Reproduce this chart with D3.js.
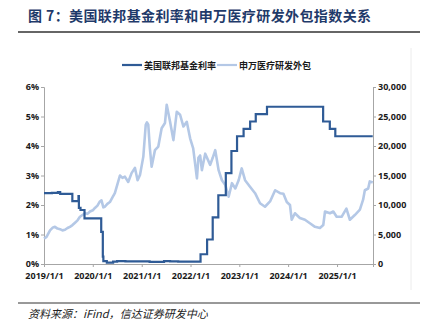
<!DOCTYPE html>
<html><head><meta charset="utf-8">
<script src="https://cdn.jsdelivr.net/npm/d3@7"></script>
<style>
html,body{margin:0;padding:0;background:#fff;}
svg{display:block;}
</style></head>
<body><svg id="c" width="428" height="324"></svg>
<script>
const titleText = "图 7：美国联邦基金利率和申万医疗研发外包指数关系";
const sourceText = "资料来源：iFind，信达证券研发中心";
const seriesNames = ["美国联邦基金利率", "申万医疗研发外包"];
const xTickLabels = ["2019/1/1","2020/1/1","2021/1/1","2022/1/1","2023/1/1","2024/1/1","2025/1/1"];
const leftTicks = [0,1,2,3,4,5,6];
const rightTicks = [0,5000,10000,15000,20000,25000,30000];

const rateDates = ["2019-01-01","2019-03-01","2019-04-15","2019-05-02","2019-06-15","2019-08-01","2019-09-16","2019-09-19","2019-10-01","2019-10-31","2020-03-04","2020-03-16","2020-03-20","2020-04-15","2020-06-01","2020-07-01","2020-09-01","2021-01-01","2021-03-01","2021-06-17","2021-08-01","2021-10-01","2022-01-01","2022-03-17","2022-05-05","2022-06-16","2022-07-28","2022-09-22","2022-11-03","2022-12-15","2023-02-02","2023-03-23","2023-05-04","2023-07-27","2024-09-19","2024-11-08","2024-12-19","2025-09-25"];
const rateValues = [2.40,2.41,2.44,2.38,2.38,2.13,2.30,1.90,1.83,1.55,1.09,0.25,0.10,0.05,0.08,0.10,0.09,0.09,0.07,0.10,0.09,0.08,0.08,0.33,0.83,1.58,2.33,3.08,3.83,4.33,4.58,4.83,5.08,5.33,4.83,4.58,4.33,4.33];

const indexDates = ["2019-01-01","2019-01-20","2019-02-15","2019-03-09","2019-03-24","2019-04-12","2019-05-01","2019-05-19","2019-06-07","2019-06-26","2019-07-14","2019-08-02","2019-08-21","2019-09-09","2019-09-27","2019-10-16","2019-11-04","2019-11-22","2019-12-11","2020-01-01","2020-01-17","2020-02-05","2020-02-23","2020-03-06","2020-03-20","2020-03-31","2020-04-19","2020-05-08","2020-05-27","2020-06-14","2020-07-03","2020-07-22","2020-08-10","2020-08-28","2020-09-22","2020-10-17","2020-11-11","2020-12-01","2020-12-19","2021-01-13","2021-01-31","2021-02-09","2021-02-19","2021-03-03","2021-03-16","2021-04-10","2021-05-05","2021-05-30","2021-06-24","2021-07-07","2021-08-01","2021-08-26","2021-09-20","2021-10-15","2021-11-09","2021-12-04","2021-12-29","2022-01-21","2022-02-18","2022-03-01","2022-03-14","2022-03-27","2022-04-08","2022-04-21","2022-05-28","2022-06-16","2022-07-05","2022-07-30","2022-08-24","2022-09-18","2022-10-13","2022-11-07","2022-12-02","2022-12-27","2023-01-19","2023-02-13","2023-03-22","2023-04-29","2023-06-05","2023-07-12","2023-08-19","2023-09-26","2023-11-02","2023-11-27","2023-12-22","2024-01-15","2024-01-28","2024-02-21","2024-03-29","2024-05-06","2024-06-12","2024-07-20","2024-08-26","2024-09-20","2024-10-03","2024-11-09","2024-12-04","2024-12-29","2025-02-04","2025-03-12","2025-04-07","2025-05-14","2025-06-21","2025-07-15","2025-07-28","2025-08-22","2025-09-03","2025-09-25"];
const indexValues = [4300,4600,5700,6200,6300,6000,5900,5700,5800,6100,6300,6600,7000,7400,8000,8300,8600,8500,8900,9100,9500,9900,10600,10800,9600,9700,10200,10500,11300,12000,13500,15000,14600,14800,13900,15400,16300,14200,15100,18200,23600,24000,23600,19600,16500,19300,19900,23000,23900,27000,24100,21000,25800,25300,23300,24100,21300,19600,14500,18000,18400,15900,17300,18700,16800,18000,19300,15900,14200,13400,11400,13700,12800,14200,16200,14200,13100,12000,10300,9700,10600,12500,12000,11900,10500,10000,7500,8600,7800,7500,6900,6300,6100,6600,8900,8600,8900,8000,8000,9400,7500,8300,9200,10900,12500,12800,14000,13800];

const colorDark = "#2f5b96", colorLight = "#b4c8e6";
const parse = d3.timeParse("%Y-%m-%d");
const rateData = rateDates.map((d,i)=>({date:parse(d), v:rateValues[i]}));
const indexData = indexDates.map((d,i)=>({date:parse(d), v:indexValues[i]}));

const svg = d3.select("#c");
const fontCN = "'Noto Sans CJK SC','Noto Sans',sans-serif";
const fontNum = "'Open Sans','Noto Sans CJK SC',sans-serif";

// Title
svg.append("text").attr("x",28).attr("y",21).text(titleText)
  .attr("font-family",fontCN).attr("font-weight","bold").attr("font-size",14)
  .attr("fill","#1f3a6a").attr("letter-spacing",0.4);
svg.append("line").attr("x1",18).attr("x2",420).attr("y1",32).attr("y2",32)
  .attr("stroke","#666").attr("stroke-width",2);

// faint frame line on right
svg.append("line").attr("x1",411).attr("x2",411).attr("y1",48).attr("y2",290)
  .attr("stroke","#ececec").attr("stroke-width",1);

const x = d3.scaleTime().domain([parse("2019-01-01"), parse("2025-09-27")]).range([44,373]);
const yL = d3.scaleLinear().domain([0,6]).range([264,87]);
const yR = d3.scaleLinear().domain([0,30000]).range([264,87]);

// Axes
const axL = svg.append("g").attr("transform","translate(44,0)")
  .call(d3.axisLeft(yL).tickValues(leftTicks).tickFormat(d=>d+"%").tickSize(3).tickPadding(2));
const axR = svg.append("g").attr("transform","translate(373,0)")
  .call(d3.axisRight(yR).tickValues(rightTicks).tickFormat(d3.format(",")).tickSize(3).tickPadding(2));
const xTickDates = xTickLabels.map(s=>d3.timeParse("%Y/%-m/%-d")(s));
const axB = svg.append("g").attr("transform","translate(0,264)")
  .call(d3.axisBottom(x).tickValues(xTickDates).tickFormat((d,i)=>xTickLabels[i]).tickSize(3).tickPadding(6));
[axL,axR,axB].forEach(a=>{
  a.select(".domain").attr("stroke","#a6a6a6");
  a.selectAll(".tick line").attr("stroke","#a6a6a6");
  a.selectAll("text").attr("font-family",fontNum).attr("font-weight","bold").attr("font-size",9).attr("fill","#1a1a1a");
});

// Lines
svg.append("path").datum(indexData)
  .attr("d", d3.line().x(d=>x(d.date)).y(d=>yR(d.v)))
  .attr("fill","none").attr("stroke",colorLight).attr("stroke-width",2.6).attr("stroke-linejoin","round");
svg.append("path").datum(rateData)
  .attr("d", d3.line().x(d=>x(d.date)).y(d=>yL(d.v)).curve(d3.curveStepAfter))
  .attr("fill","none").attr("stroke",colorDark).attr("stroke-width",2.2);

// Legend
const leg = [{c:colorDark,x:122},{c:colorLight,x:217}];
leg.forEach((l,i)=>{
  svg.append("line").attr("x1",l.x).attr("x2",l.x+20).attr("y1",65).attr("y2",65)
    .attr("stroke",l.c).attr("stroke-width",2.2);
  svg.append("text").attr("x",l.x+22).attr("y",68.5).text(seriesNames[i])
    .attr("font-family",fontCN).attr("font-weight","bold").attr("font-size",9).attr("fill","#1a1a1a");
});

// Source
svg.append("line").attr("x1",18).attr("x2",420).attr("y1",303).attr("y2",303)
  .attr("stroke","#333").attr("stroke-width",1);
svg.append("text").attr("x",28).attr("y",318).text(sourceText)
  .attr("font-family",fontCN).attr("font-style","italic").attr("font-size",11).attr("fill","#222");
</script></body></html>
